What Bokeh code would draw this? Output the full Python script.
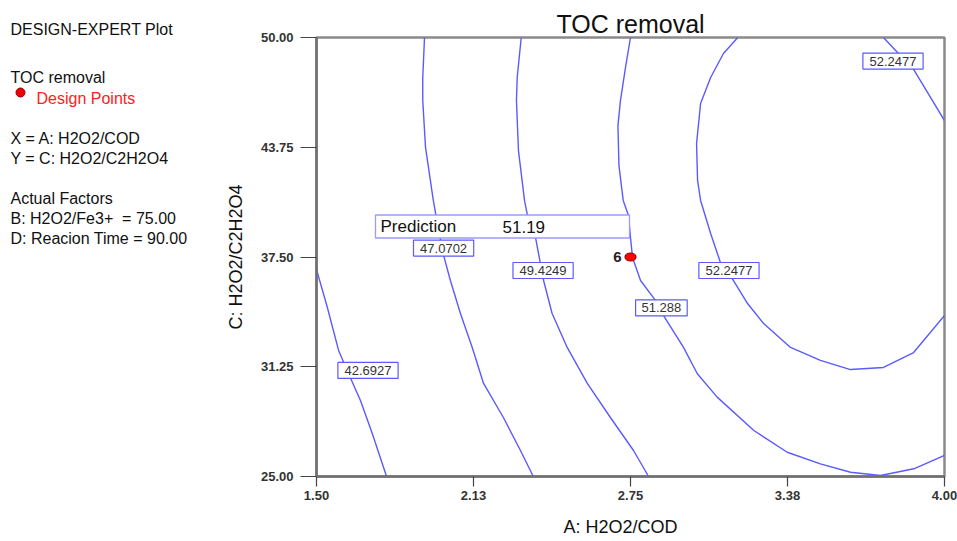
import math
from bokeh.plotting import figure
from bokeh.layouts import row
from bokeh.models import Range1d, FixedTicker, Label
from bokeh.core.properties import value
from bokeh.embed import file_html
from bokeh.resources import INLINE

# ---- factor ranges and ticks ----
A_MIN, A_MAX = 1.50, 4.00          # A: H2O2/COD
C_MIN, C_MAX = 25.00, 50.00        # C: H2O2/C2H2O4

x_ticks = [1.5, 2.125, 2.75, 3.375, 4.0]
x_tick_labels = ["1.50", "2.13", "2.75", "3.38", "4.00"]
y_ticks = [25.0, 31.25, 37.5, 43.75, 50.0]
y_tick_labels = ["25.00", "31.25", "37.50", "43.75", "50.00"]

# ---- TOC removal contour lines (one entry per drawn line) ----
levels = [42.6927, 47.0702, 49.4249, 51.288, 52.2477, 52.2477]

contour_x = [
    [1.500, 1.543, 1.588, 1.622, 1.675, 1.722, 1.779],
    [1.930, 1.923, 1.923, 1.934, 1.965, 1.986, 2.006, 2.033, 2.073, 2.120, 2.165, 2.244, 2.312, 2.363],
    [2.315, 2.299, 2.296, 2.304, 2.328, 2.340, 2.372, 2.404, 2.438, 2.498, 2.578, 2.670, 2.762, 2.822],
    [2.750, 2.730, 2.710, 2.700, 2.704, 2.721, 2.742, 2.750, 2.758, 2.790, 2.850, 2.881, 2.961, 3.016,
     3.095, 3.241, 3.374, 3.506, 3.626, 3.745, 3.878, 4.000],
    [3.177, 3.120, 3.069, 3.029, 3.013, 3.017, 3.029, 3.069, 3.108, 3.160, 3.216, 3.280, 3.387, 3.506,
     3.626, 3.757, 3.877, 4.000],
    [3.757, 3.813, 3.877, 4.000],
]
contour_y = [
    [36.79, 34.64, 32.18, 31.04, 29.33, 27.45, 25.00],
    [50.00, 47.72, 46.41, 43.74, 40.72, 39.01, 37.59, 36.16, 34.28, 32.35, 30.30, 28.36, 26.48, 25.00],
    [50.00, 47.72, 46.41, 43.56, 40.72, 39.86, 38.61, 36.16, 34.28, 32.35, 30.30, 28.36, 26.48, 25.00],
    [50.00, 48.29, 46.41, 44.98, 42.70, 40.72, 39.86, 38.61, 37.47, 36.16, 35.02, 34.17, 32.35, 30.85,
     29.52, 27.62, 26.38, 25.72, 25.24, 25.06, 25.44, 26.20],
    [50.00, 49.09, 47.72, 46.24, 43.96, 41.86, 40.72, 38.84, 37.19, 36.16, 34.85, 33.71, 32.35, 31.61,
     31.09, 31.21, 32.06, 34.17],
    [50.00, 49.15, 48.18, 45.27],
]

# where each contour carries its value tag
label_x = [1.705, 2.006, 2.402, 2.873, 3.142, 3.795]
label_y = [31.04, 38.01, 36.73, 34.60, 36.73, 48.66]

# ---- design point and its prediction ----
design_x = [2.75]
design_y = [37.5]
design_id = ["6"]
prediction = 51.19

# ---- side panel text ----
side_heading = "DESIGN-EXPERT Plot"
side_lines = ["TOC removal", "Design Points",
              "X = A: H2O2/COD", "Y = C: H2O2/C2H2O4", "Actual Factors",
              "B: H2O2/Fe3+\u00a0 = 75.00", "D: Reacion Time = 90.00"]

# ---- canvas / frame geometry (pixels) ----
W, H = 957, 541
SIDE_W = 215
FL, FR, FT, FB = 316, 944, 37, 476

FONT = "Liberation Sans"
LINE_BLUE = "#5a5aff"


def dx(px):
    return A_MIN + (px - FL) * (A_MAX - A_MIN) / (FR - FL)


def dy(py):
    return C_MIN + (FB - py) * (C_MAX - C_MIN) / (FB - FT)


def to_px(x, y):
    return (FL + (x - A_MIN) * (FR - FL) / (A_MAX - A_MIN),
            FB - (y - C_MIN) * (FB - FT) / (C_MAX - C_MIN))


# ================= side panel (pixel coordinates, y downwards) =================
side = figure(width=SIDE_W, height=H, output_backend="svg", toolbar_location=None,
              x_range=Range1d(0, SIDE_W), y_range=Range1d(FB, FT),
              x_axis_type=None, y_axis_type=None,
              min_border_left=0, min_border_right=0,
              min_border_top=FT, min_border_bottom=H - FB)
side.grid.visible = False
side.outline_line_color = None
side.background_fill_color = "white"
side.border_fill_color = "white"
side.title.text = side_heading
side.title.align = "left"
side.title.offset = 10
side.title.text_font = FONT
side.title.text_font_size = "16px"
side.title.text_font_style = "normal"
side.title.text_color = "#111111"
side.title.standoff = 0

side_base = [77, 98, 138, 158, 198, 218, 238]
side_left = [10, 36, 10, 10, 10, 10, 10]
side_color = ["#111111", "#ff2020", "#111111", "#111111", "#111111", "#111111", "#111111"]
side.text(x=side_left, y=side_base, text=side_lines, text_font=value(FONT),
          text_font_size=value("16px"), text_color=side_color,
          text_align="left", text_baseline="alphabetic")
side.scatter(x=[20], y=[92], size=9, marker="circle",
             fill_color="#ee0000", line_color="#990000", line_width=1)

# ================= contour plot =================
p = figure(width=W - SIDE_W, height=H, output_backend="svg", toolbar_location=None,
           x_range=Range1d(A_MIN, A_MAX), y_range=Range1d(C_MIN, C_MAX),
           min_border_left=FL - SIDE_W, min_border_right=W - FR,
           min_border_top=FT, min_border_bottom=H - FB)
p.background_fill_color = "white"
p.border_fill_color = "white"
p.grid.visible = False
p.outline_line_color = "#8a8a8a"
p.outline_line_width = 2.5

p.title.text = "TOC removal"
p.title.align = "center"
p.title.vertical_align = "bottom"
p.title.text_font = FONT
p.title.text_font_size = "25px"
p.title.text_font_style = "normal"
p.title.text_color = "#111111"
p.title.text_line_height = 1.25
p.title.standoff = 0

for ax, ticks, labels, tick_out in ((p.xaxis, x_ticks, x_tick_labels, 10),
                                    (p.yaxis, y_ticks, y_tick_labels, 16)):
    ax.ticker = FixedTicker(ticks=ticks)
    ax.major_label_overrides = dict(zip(ticks, labels))
    ax.axis_line_color = "#707070"
    ax.axis_line_width = 2.5
    ax.major_tick_line_color = "#444444"
    ax.major_tick_line_width = 1.2
    ax.major_tick_out = tick_out
    ax.major_tick_in = 0
    ax.minor_tick_line_color = None
    ax.major_label_text_font = FONT
    ax.major_label_text_font_size = "13px"
    ax.major_label_text_font_style = "bold"
    ax.major_label_text_color = "#333333"
    ax.axis_label_text_font = FONT
    ax.axis_label_text_font_size = "18px"
    ax.axis_label_text_font_style = "normal"
    ax.axis_label_text_color = "#111111"
p.xaxis.major_label_standoff = 4
p.yaxis.major_label_standoff = 7
p.yaxis.axis_label = "C: H2O2/C2H2O4"
p.yaxis.axis_label_standoff = 12
# trailing no-break spaces set the title a little left of the frame centre
p.xaxis.axis_label = "A: H2O2/COD" + "\u00a0" * 4
p.xaxis.axis_label_standoff = 14

# contour lines
p.multi_line(xs=contour_x, ys=contour_y, line_color=LINE_BLUE, line_width=1.4)

# value tags on the contours
label_text = [f"{v:g}" for v in levels]
p.rect(x=label_x, y=label_y, width=[8.6 * len(t) for t in label_text], height=16,
       width_units="screen", height_units="screen",
       fill_color="white", line_color=LINE_BLUE, line_width=1.2)
p.text(x=label_x, y=label_y, text=label_text, text_font=value(FONT),
       text_font_size=value("13px"), text_color="#333333",
       text_align="center", text_baseline="middle")

# prediction box attached to the design point
ppx, ppy = to_px(design_x[0], design_y[0])
box_r, box_l = ppx - 1, ppx - 255
box_b, box_t = ppy - 19, ppy - 42
p.quad(left=dx(box_l), right=dx(box_r), top=dy(box_t), bottom=dy(box_b),
       fill_color="white", line_color="#9a9aff", line_width=1.3)
mid = dy((box_t + box_b) / 2)
p.add_layout(Label(x=dx(box_l + 5), y=mid, text="Prediction",
                   text_font=FONT, text_font_size="17px", text_color="#111111",
                   text_align="left", text_baseline="middle"))
p.add_layout(Label(x=dx(box_l + 127), y=mid, text=f"{prediction:.2f}",
                   text_font=FONT, text_font_size="17px", text_color="#111111",
                   text_align="left", text_baseline="middle"))

# design point
p.ellipse(x=design_x, y=design_y, width=11, height=8,
          width_units="screen", height_units="screen",
          fill_color="#ff0000", line_color="#a00000", line_width=1.2)
p.add_layout(Label(x=dx(ppx - 9), y=design_y[0], text=design_id[0],
                   text_font=FONT, text_font_size="15px", text_font_style="bold",
                   text_color="#222222", text_align="right", text_baseline="middle"))

layout = row(side, p, spacing=0)
open("out.html", "w").write(file_html(layout, INLINE))
